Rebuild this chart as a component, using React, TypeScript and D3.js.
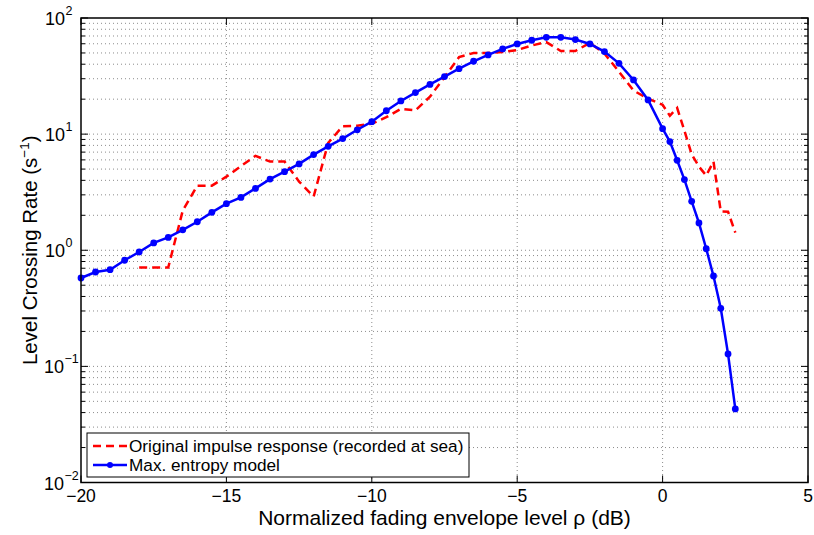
import React from "react";
import * as d3 from "d3";

const blueX = [-20, -19.5, -19, -18.5, -18, -17.5, -17, -16.5, -16, -15.5, -15, -14.5, -14, -13.5, -13, -12.5, -12, -11.5, -11, -10.5, -10, -9.5, -9, -8.5, -8, -7.5, -7, -6.5, -6, -5.5, -5, -4.5, -4, -3.5, -3, -2.5, -2, -1.5, -1, -0.5, 0, 0.25, 0.5, 0.75, 1, 1.25, 1.5, 1.75, 2, 2.25, 2.5];
const blueY = [0.577, 0.65, 0.68, 0.82, 0.966, 1.156, 1.29, 1.5, 1.76, 2.12, 2.52, 2.85, 3.41, 4.1, 4.75, 5.54, 6.66, 7.85, 9.15, 10.9, 12.8, 15.9, 19.3, 22.8, 26.8, 31.3, 36.6, 42.4, 48.1, 54.2, 59.8, 64.3, 68.2, 68.2, 65.2, 59.8, 51.4, 40.7, 29.3, 19.7, 11.15, 8.62, 5.95, 4.06, 2.64, 1.72, 1.03, 0.6, 0.316, 0.128, 0.043];

const redX = [-18, -17.5, -17, -16.5, -16, -15.5, -15, -14.5, -14, -13.5, -13, -12.5, -12, -11.5, -11, -10.5, -10, -9.5, -9, -8.5, -8, -7.5, -7, -6.5, -6, -5.5, -5, -4.5, -4, -3.5, -3, -2.5, -2, -1.5, -1, -0.5, 0, 0.25, 0.5, 0.75, 1, 1.25, 1.5, 1.75, 2, 2.25, 2.5];
const redY = [0.71, 0.71, 0.71, 2.2, 3.6, 3.6, 4.3, 5.3, 6.5, 5.8, 5.8, 3.9, 2.9, 8.4, 11.7, 11.8, 12.3, 14, 16.5, 16, 21, 31, 46, 50, 50, 51, 53, 58, 62, 52, 52, 61, 49.4, 34.5, 23.7, 20.2, 17.9, 14.4, 16.8, 10.7, 6.7, 5.25, 4.4, 5.8, 2.16, 2.15, 1.42];

const xTicks = [-20, -15, -10, -5, 0, 5];
const yExponents = [-2, -1, 0, 1, 2];

const legendLabels = ["Original impulse response (recorded at sea)", "Max. entropy model"];
const xLabel = "Normalized fading envelope level ρ (dB)";

const W = 814, H = 535;
const M = { left: 81, right: 808, top: 18, bottom: 482.5 };
const FONT = "'Liberation Sans', Arial, Helvetica, sans-serif";

export default function App() {
  const x = d3.scaleLinear().domain([-20, 5]).range([M.left, M.right]);
  const y = d3.scaleLog().domain([0.01, 100]).range([M.bottom, M.top]);

  const mk = (xs: number[], ys: number[]) =>
    d3.line<[number, number]>().x(d => x(d[0])).y(d => y(d[1]))(xs.map((v, i) => [v, ys[i]] as [number, number])) || "";

  const minorY: number[] = [];
  for (let e = -2; e < 2; e++) {
    for (let k = 2; k <= 9; k++) minorY.push(k * Math.pow(10, e));
  }
  const majorY = yExponents.map(e => Math.pow(10, e));

  const gridColor = "#8c8c8c";
  const dash = "1,3";

  return (
    <svg width={W} height={H} style={{ position: "absolute", left: 0, top: 0, background: "#fff" }} fontFamily={FONT}>
      <rect x={0} y={0} width={W} height={H} fill="#fff" />
      {/* grid */}
      <g>
        {xTicks.slice(1, -1).map(t => (
          <line key={"gx" + t} x1={x(t)} x2={x(t)} y1={M.top} y2={M.bottom} stroke={gridColor} strokeWidth={1} strokeDasharray={dash} />
        ))}
        {[...minorY, ...majorY.slice(1, -1)].map((v, i) => (
          <line key={"gy" + i} x1={M.left} x2={M.right} y1={y(v)} y2={y(v)} stroke={gridColor} strokeWidth={1} strokeDasharray={dash} />
        ))}
      </g>
      {/* ticks */}
      <g stroke="#000" strokeWidth={1}>
        {xTicks.map(t => (
          <g key={"tx" + t}>
            <line x1={x(t)} x2={x(t)} y1={M.bottom} y2={M.bottom - 7} />
            <line x1={x(t)} x2={x(t)} y1={M.top} y2={M.top + 7} />
          </g>
        ))}
        {majorY.map((v, i) => (
          <g key={"ty" + i}>
            <line x1={M.left} x2={M.left + 7} y1={y(v)} y2={y(v)} />
            <line x1={M.right} x2={M.right - 7} y1={y(v)} y2={y(v)} />
          </g>
        ))}
        {minorY.map((v, i) => (
          <g key={"tmy" + i}>
            <line x1={M.left} x2={M.left + 4} y1={y(v)} y2={y(v)} />
            <line x1={M.right} x2={M.right - 4} y1={y(v)} y2={y(v)} />
          </g>
        ))}
      </g>
      {/* data */}
      <path d={mk(redX, redY)} fill="none" stroke="#ff0000" strokeWidth={2.5} strokeDasharray="8,5" />
      <path d={mk(blueX, blueY)} fill="none" stroke="#0000ff" strokeWidth={2.5} />
      {blueX.map((v, i) => (
        <circle key={"p" + i} cx={x(v)} cy={y(blueY[i])} r={3.4} fill="#0000ff" />
      ))}
      {/* frame */}
      <rect x={M.left} y={M.top} width={M.right - M.left} height={M.bottom - M.top} fill="none" stroke="#000" strokeWidth={1.5} />
      {/* x tick labels */}
      {xTicks.map(t => (
        <text key={"lx" + t} x={x(t)} y={501.5} fontSize={17.5} textAnchor="middle" fill="#000">
          {t < 0 ? "\u2212" + Math.abs(t) : String(t)}
        </text>
      ))}
      {/* y tick labels */}
      {yExponents.map(e => (
        <text key={"ly" + e} x={e < 0 ? 64 : 65} y={y(Math.pow(10, e)) + 7} fontSize={18} textAnchor="end" fill="#000">
          10
        </text>
      ))}
      {yExponents.map(e => (
        <text key={"le" + e} x={e < 0 ? 64.5 : 65.5} y={y(Math.pow(10, e)) - 3} fontSize={12.5} textAnchor="start" fill="#000">
          {e < 0 ? "\u2212" + Math.abs(e) : String(e)}
        </text>
      ))}
      {/* axis labels */}
      <text x={(M.left + M.right) / 2} y={524.5} fontSize={21} textAnchor="middle" fill="#000">{xLabel}</text>
      <text transform={`translate(37, ${(M.top + M.bottom) / 2}) rotate(-90)`} fontSize={20.5} textAnchor="middle" fill="#000">
        Level Crossing Rate (s<tspan dy={-8} fontSize={13.5}>{"\u22121"}</tspan><tspan dy={8}>)</tspan>
      </text>
      {/* legend */}
      <g>
        <rect x={87} y={433} width={382} height={44} fill="#fff" stroke="#000" strokeWidth={1} />
        <line x1={93} x2={127} y1={446} y2={446} stroke="#ff0000" strokeWidth={2.5} strokeDasharray="8,5" />
        <line x1={93} x2={127} y1={465} y2={465} stroke="#0000ff" strokeWidth={2.5} />
        <circle cx={110} cy={465} r={3} fill="#0000ff" />
        <text x={129} y={451.5} fontSize={17.2} fill="#000">{legendLabels[0]}</text>
        <text x={129} y={470.5} fontSize={17.2} fill="#000">{legendLabels[1]}</text>
      </g>
    </svg>
  );
}
